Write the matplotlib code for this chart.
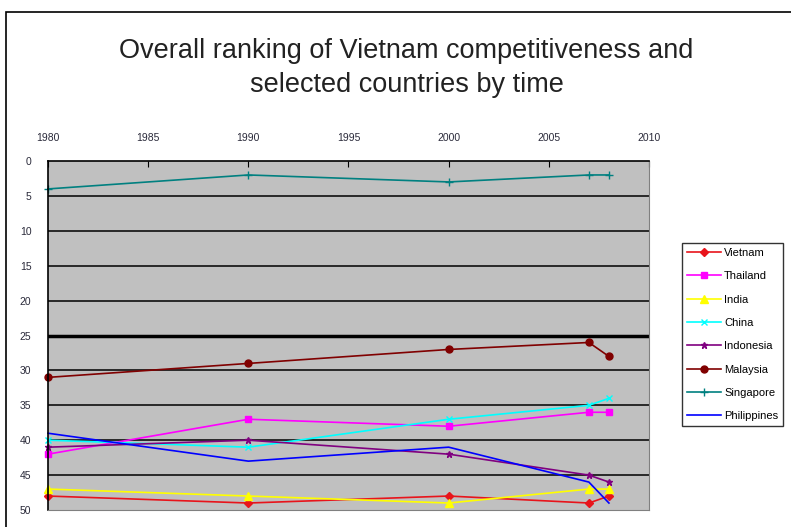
import matplotlib.pyplot as plt
from matplotlib.patches import Rectangle

plt.rcParams['font.family'] = ['Liberation Sans', 'DejaVu Sans']

# Dados: ranking por ano (posição menor = melhor)
anos = [1980, 1990, 2000, 2007, 2008]
vietnam = [48, 49, 48, 49, 48]
thailand = [42, 37, 38, 36, 36]
india = [47, 48, 49, 47, 47]
china = [40, 41, 37, 35, 34]
indonesia = [41, 40, 42, 45, 46]
malaysia = [31, 29, 27, 26, 28]
singapore = [4, 2, 3, 2, 2]
philippines = [39, 43, 41, 46, 49]

series = [
    ('Vietnam', vietnam, '#E8141B', 'D', 4),
    ('Thailand', thailand, '#FF00FF', 's', 5),
    ('India', india, '#FFFF00', '^', 6),
    ('China', china, '#00FFFF', 'x', 5),
    ('Indonesia', indonesia, '#800080', '*', 5),
    ('Malaysia', malaysia, '#800000', 'o', 5),
    ('Singapore', singapore, '#008080', '+', 6),
    ('Philippines', philippines, '#0000FF', None, 0),
]

fig = plt.figure(figsize=(7.91, 5.27), dpi=100)
ax = fig.add_axes([48 / 791, 1 - 510 / 527, 601 / 791, 349 / 527])
ax.set_facecolor('#C0C0C0')

# moldura do gráfico
fig.patches.append(Rectangle((6 / 791, -0.1), 2, 1 - 12 / 527 + 0.1,
                             transform=fig.transFigure, fill=False,
                             edgecolor='black', linewidth=1.2))

for nome, valores, cor, marcador, tam in series:
    ax.plot(anos, valores, color=cor, marker=marcador, markersize=tam,
            linewidth=1.2, label=nome, clip_on=False)

ax.set_xlim(1980, 2010)
ax.set_ylim(50, 0)
ax.set_xticks(range(1980, 2011, 5))
ax.set_yticks(range(0, 51, 5))
ax.xaxis.tick_top()
ax.tick_params(axis='x', direction='in', length=4, labelsize=7.5,
               labelcolor='#2a2a3a', pad=13)
ax.tick_params(axis='y', length=0, labelsize=7.5, labelcolor='#2a2a3a', pad=12)

for y in range(5, 50, 5):
    ax.axhline(y, color='black', linewidth=2.5 if y == 25 else 1.1, zorder=1)

for lado in ['right', 'bottom']:
    ax.spines[lado].set_color('#808080')
ax.spines['top'].set_linewidth(1.2)
ax.spines['left'].set_linewidth(1.2)

fig.text(0.513, 1 - 51 / 527, 'Overall ranking of Vietnam competitiveness and',
         ha='center', va='center', fontsize=19.5, color='#222222')
fig.text(0.515, 1 - 85 / 527, 'selected countries by time',
         ha='center', va='center', fontsize=19.5, color='#222222')

leg = fig.legend(loc='upper left', bbox_to_anchor=(682 / 791, 1 - 243 / 527),
                 fontsize=8, labelspacing=1.2, handlelength=3.1,
                 frameon=True, fancybox=False, borderaxespad=0,
                 borderpad=0.45, handletextpad=0.25)
leg.get_frame().set_edgecolor('black')
leg.get_frame().set_linewidth(1)

fig.savefig('out.png', dpi=100)
